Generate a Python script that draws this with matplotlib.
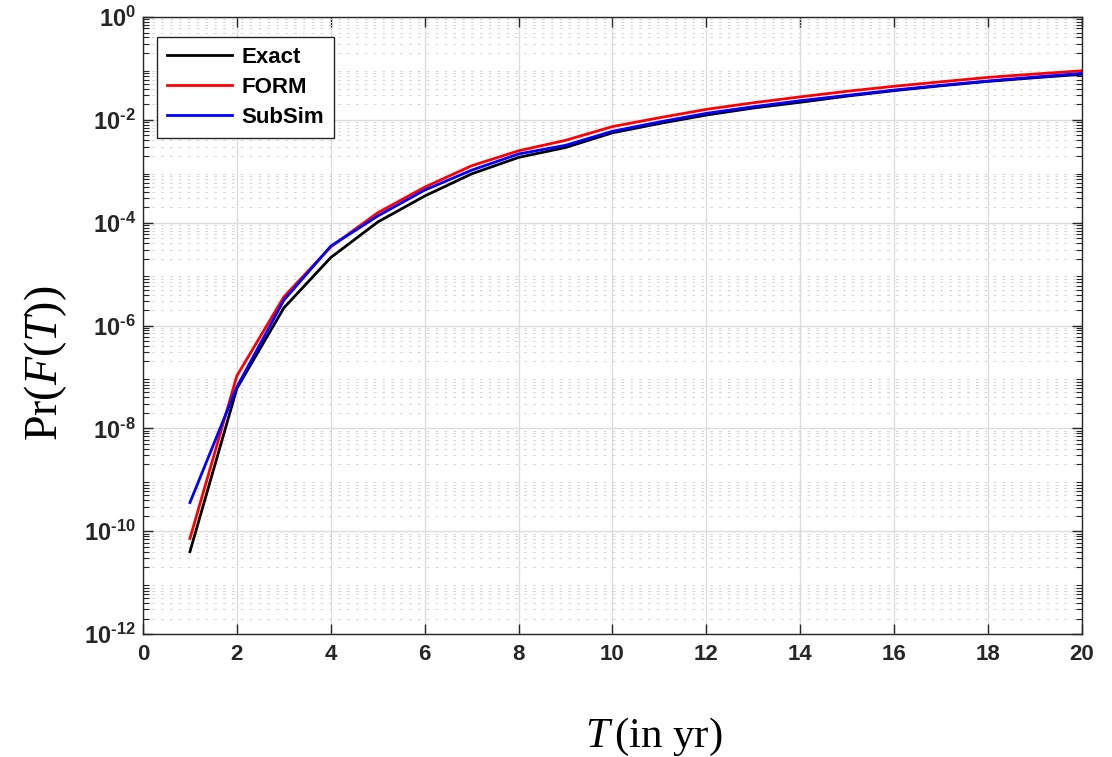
import numpy as np
import matplotlib
matplotlib.use('Agg')
import matplotlib.pyplot as plt
from matplotlib.ticker import LogLocator, FixedLocator, NullFormatter

matplotlib.rcParams.update({
    'font.family': 'Liberation Sans',
    'mathtext.fontset': 'custom',
    'mathtext.rm': 'Liberation Serif',
    'mathtext.it': 'Liberation Serif:italic',
    'mathtext.bf': 'Liberation Sans:bold',
})

T = np.arange(1, 21)
exact = [4.0e-11, 6.0e-8, 2.2e-6, 2.1e-5, 1.03e-4, 3.3e-4, 8.9e-4, 1.86e-3, 2.9e-3, 5.6e-3,
         8.5e-3, 1.24e-2, 1.7e-2, 2.2e-2, 2.9e-2, 3.7e-2, 4.6e-2, 5.6e-2, 6.6e-2, 7.7e-2]
form = [7.2e-11, 1.05e-7, 3.6e-6, 3.4e-5, 1.56e-4, 4.9e-4, 1.28e-3, 2.5e-3, 4.0e-3, 7.4e-3,
        1.1e-2, 1.6e-2, 2.15e-2, 2.8e-2, 3.6e-2, 4.5e-2, 5.5e-2, 6.7e-2, 7.8e-2, 9.0e-2]
subsim = [3.6e-10, 6.4e-8, 3.1e-6, 3.5e-5, 1.35e-4, 4.3e-4, 1.05e-3, 2.17e-3, 3.2e-3, 6.0e-3,
          9.1e-3, 1.34e-2, 1.8e-2, 2.36e-2, 3.0e-2, 3.8e-2, 4.7e-2, 5.7e-2, 6.8e-2, 8.0e-2]

xticks = np.arange(0, 21, 2)
yticks = [1e-12, 1e-10, 1e-8, 1e-6, 1e-4, 1e-2, 1e0]
yexps = ['\u2010' + '12', '\u2010' + '10', '\u20108', '\u20106', '\u20104', '\u20102', '0']
ytick_labels = [r'$\mathbf{10^{%s}}$' % e for e in yexps]

fig = plt.figure(figsize=(11.12, 7.57), dpi=100)
ax = fig.add_axes([0.1286, 0.1625, 0.8444, 0.815])

ax.plot(T, exact, color='black', lw=2, label='Exact')
ax.plot(T, form, color='red', lw=2, label='FORM')
ax.plot(T, subsim, color='blue', lw=2, label='SubSim')

ax.set_yscale('log')
ax.set_xlim(0, 20)
ax.set_ylim(1e-12, 1e0)
ax.set_xticks(xticks)
ax.set_xticklabels([str(x) for x in xticks], fontweight='bold')
ax.yaxis.set_major_locator(FixedLocator(yticks))
ax.set_yticklabels(ytick_labels)
ax.yaxis.set_minor_locator(LogLocator(base=10, subs=np.arange(2, 10), numticks=100))
ax.yaxis.set_minor_formatter(NullFormatter())

ax.tick_params(which='both', direction='in', top=True, right=True, colors='#262626')
ax.tick_params(which='major', length=7, width=1)
ax.tick_params(which='minor', length=4, width=0.8)
ax.tick_params(axis='x', labelsize=16, pad=7)
ax.tick_params(axis='y', labelsize=17, pad=5)

for s in ax.spines.values():
    s.set_color('#262626')
    s.set_linewidth(1)

# grids: solid major, dotted minor on the log axis
ax.grid(which='major', color='#dcdcdc', lw=1, ls='-')
ax.grid(which='minor', axis='y', color='#d6d6d6', lw=0.75, ls=(0, (2.5, 6)))
ax.set_axisbelow(True)

leg = ax.legend(loc='upper left', bbox_to_anchor=(0.015, 0.968), fontsize=16,
                fancybox=False, edgecolor='#262626', framealpha=1,
                handlelength=2.9, handletextpad=0.45, borderpad=0.45, labelspacing=0.4,
                borderaxespad=0)
leg.get_frame().set_linewidth(1)
for t in leg.get_texts():
    t.set_fontweight('bold')

fig.text(0.041, 0.52, r'$\mathrm{Pr}\left(F(T)\right)$', rotation=90,
         fontsize=33, ha='center', va='center')
fig.text(0.588, 0.026, r'$T\,\mathrm{(in\ yr)}$', fontsize=31, ha='center', va='center')

fig.savefig('out.png', dpi=100)
